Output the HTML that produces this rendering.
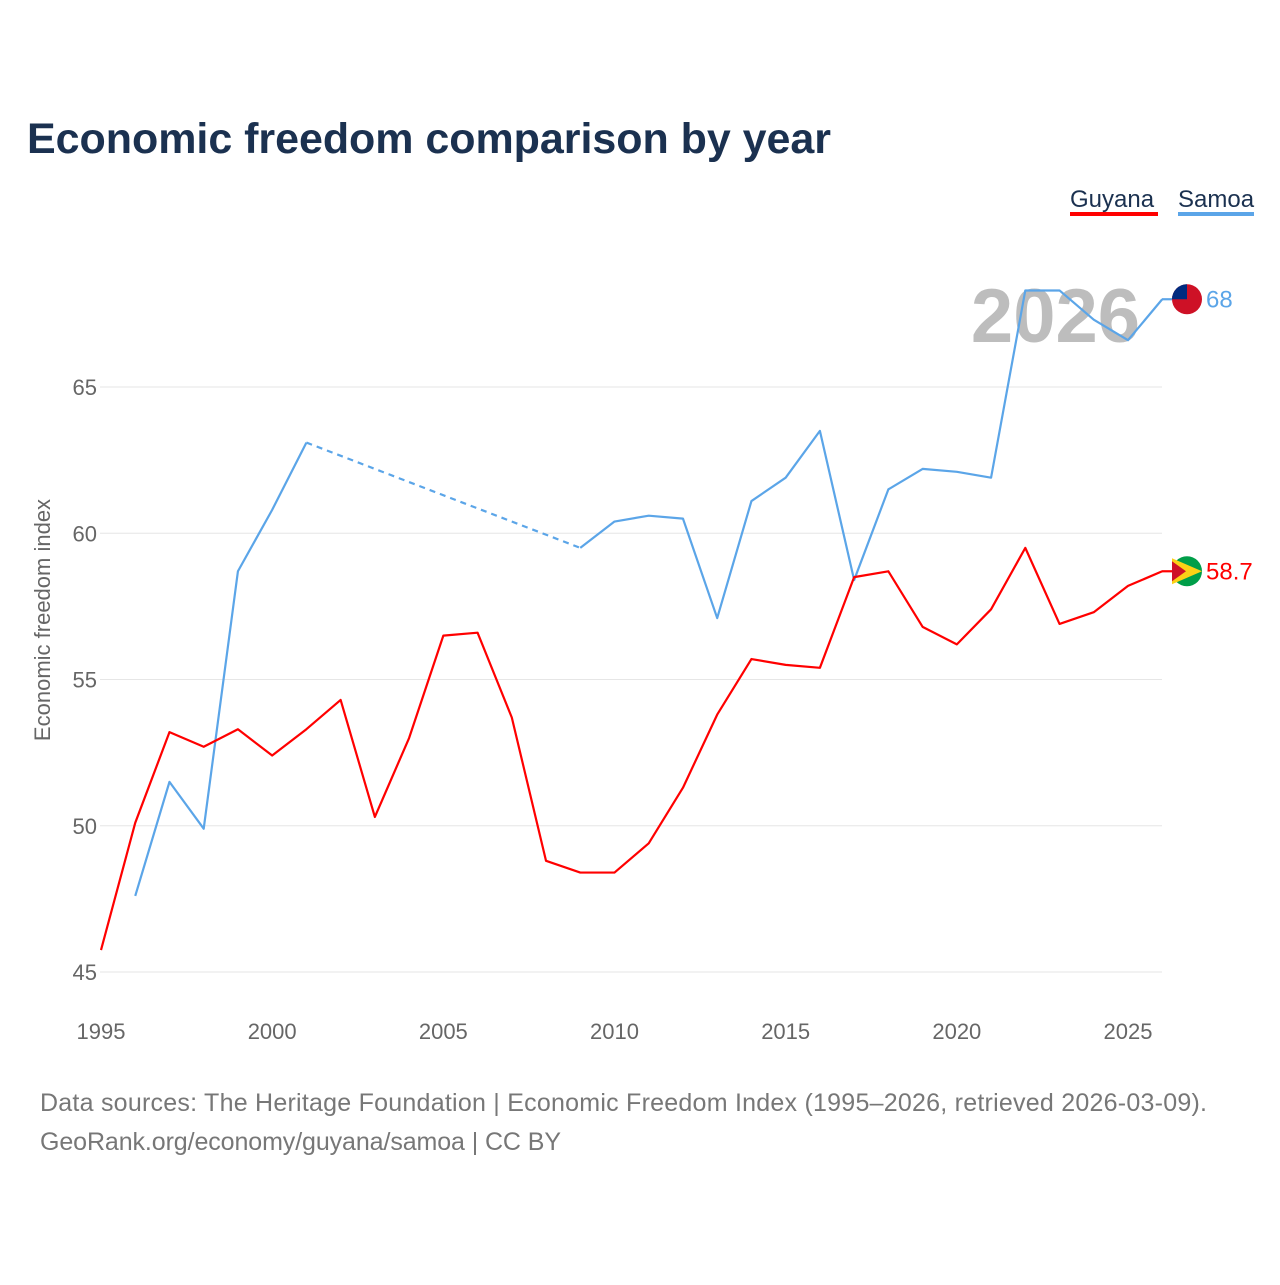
<!DOCTYPE html>
<html><head><meta charset="utf-8"><style>
body{margin:0;background:#fff;font-family:"Liberation Sans",sans-serif;}
svg text{font-family:"Liberation Sans",sans-serif;}
</style></head><body>
<svg width="1280" height="1280" viewBox="0 0 1280 1280" xmlns="http://www.w3.org/2000/svg">
<text x="27" y="153" font-size="43" font-weight="bold" fill="#1b3150" textLength="804">Economic freedom comparison by year</text>
<g>
<text x="1070" y="207" font-size="24" fill="#1b3150">Guyana</text>
<rect x="1070" y="212" width="88" height="4" fill="#ff0000"/>
<text x="1178" y="207" font-size="24" fill="#1b3150">Samoa</text>
<rect x="1178" y="212" width="76" height="4" fill="#5ba5e8"/>
</g>
<text x="1140" y="342" font-size="76" font-weight="bold" fill="#bdbdbd" text-anchor="end">2026</text>
<g id="grid"></g>
<g id="series"></g>
<text transform="translate(50,620) rotate(-90)" font-size="22" fill="#666" text-anchor="middle">Economic freedom index</text>
<text x="40" y="1111" font-size="25" fill="#777" textLength="1167">Data sources: The Heritage Foundation | Economic Freedom Index (1995–2026, retrieved 2026-03-09).</text>
<text x="40" y="1150" font-size="25" fill="#777" textLength="521">GeoRank.org/economy/guyana/samoa | CC BY</text>
</svg>
<script>
const years=[1995,1996,1997,1998,1999,2000,2001,2002,2003,2004,2005,2006,2007,2008,2009,2010,2011,2012,2013,2014,2015,2016,2017,2018,2019,2020,2021,2022,2023,2024,2025,2026];
const guyana=[45.75,50.1,53.2,52.7,53.3,52.4,53.3,54.3,50.3,53.0,56.5,56.6,53.7,48.8,48.4,48.4,49.4,51.3,53.8,55.7,55.5,55.4,58.5,58.7,56.8,56.2,57.4,59.5,56.9,57.3,58.2,58.7];
const samoa=[null,47.6,51.5,49.9,58.7,60.8,63.1,null,null,null,null,null,null,null,59.5,60.4,60.6,60.5,57.1,61.1,61.9,63.5,58.4,61.5,62.2,62.1,61.9,68.3,68.3,67.3,66.6,68.0];
const yTicks=[45,50,55,60,65];
const xTicks=[1995,2000,2005,2010,2015,2020,2025];
const NS="http://www.w3.org/2000/svg";
const x=y=>101+(y-1995)*(1027/30);
const yv=v=>972-(v-45)*29.25;
function mk(t,a,p){const e=document.createElementNS(NS,t);for(const k in a)e.setAttribute(k,a[k]);p.appendChild(e);return e;}
const grid=document.getElementById('grid'),ser=document.getElementById('series');
yTicks.forEach(v=>{
const l=mk('line',{x1:100,x2:1162,y1:yv(v),y2:yv(v),stroke:'#e6e6e6','stroke-width':1},grid);


const t=mk('text',{x:97,y:yv(v)+8,'font-size':22,fill:'#666','text-anchor':'end'},grid);t.textContent=v;


});
xTicks.forEach(v=>{
const t=mk('text',{x:x(v),y:1039,'font-size':22,fill:'#666','text-anchor':'middle'},grid);t.textContent=v;


});
function draw(vals,color,name){
let segs=[],cur=[],last=null,dashed=[];
vals.forEach((v,i)=>{
if(v==null){if(cur.length){segs.push(cur);last=cur[cur.length-1];cur=[];}return;}
const p=[x(years[i]),yv(v)];
if(!cur.length&&last){dashed.push([last,p]);}
cur.push(p);});
if(cur.length)segs.push(cur);
segs.forEach((s,k)=>{const e=mk('polyline',{points:s.map(p=>p.join(',')).join(' '),fill:'none',stroke:color,'stroke-width':2.2,'stroke-linejoin':'round'},ser);

});
dashed.forEach((d,k)=>{const e=mk('line',{x1:d[0][0],y1:d[0][1],x2:d[1][0],y2:d[1][1],stroke:color,'stroke-width':2.2,'stroke-dasharray':'6,5'},ser);

});
}
draw(samoa,'#5ba5e8','samoa');
draw(guyana,'#ff0000','guyana');
function endLabel(v,color,name,flag){
const cx=1187,cy=yv(v);
const c=mk('line',{x1:1162,x2:1172,y1:cy,y2:cy,stroke:color,'stroke-width':2.2},ser);


const g=mk('g',{},ser);


if(flag==='samoa'){
mk('circle',{cx:cx,cy:cy,r:15,fill:'#ce1126'},g);
mk('path',{d:`M${cx-15},${cy} A15,15 0 0 1 ${cx},${cy-15} L${cx},${cy} Z`,fill:'#002b7f'},g);
}else{
mk('circle',{cx:cx,cy:cy,r:15,fill:'#009e49'},g);
mk('path',{d:`M${cx-15},${cy-13} L${cx+15},${cy} L${cx-15},${cy+13} Z`,fill:'#fcd116'},g);
mk('path',{d:`M${cx-15},${cy-10} L${cx-1},${cy} L${cx-15},${cy+10} Z`,fill:'#ce1126'},g);
}
const t=mk('text',{x:1206,y:cy+8,'font-size':24,fill:color},ser);t.textContent=v;


}
endLabel(samoa[samoa.length-1],'#5ba5e8','samoa','samoa');
endLabel(guyana[guyana.length-1],'#ff0000','guyana','guyana');
</script>
</body></html>
